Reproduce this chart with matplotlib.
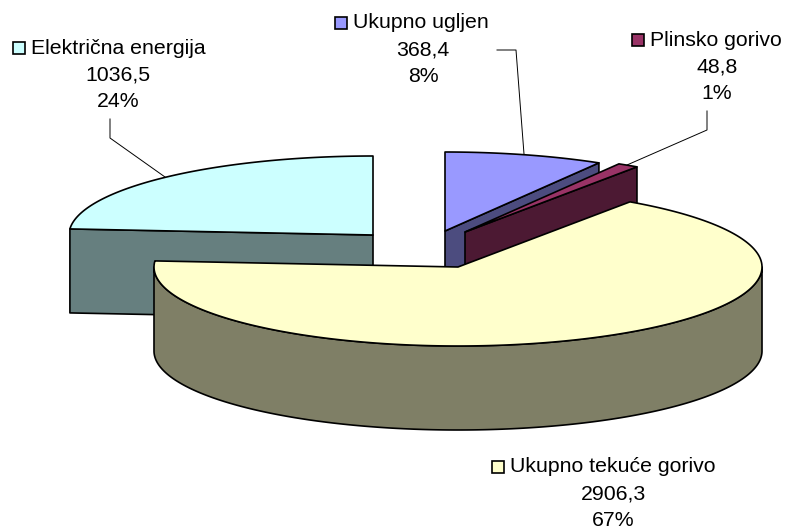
import numpy as np
import matplotlib
matplotlib.use('Agg')
import matplotlib.pyplot as plt

plt.rcParams['font.family'] = ['Liberation Sans', 'DejaVu Sans']

names = ['Ukupno ugljen', 'Plinsko gorivo', 'Ukupno tekuće gorivo', 'Električna energija']
values = [368.4, 48.8, 2906.3, 1036.5]
top_colors = ['#9999FF', '#993366', '#FFFFCC', '#CCFFFF']
side_colors = ['#4C4C7F', '#4C1933', '#7F7F66', '#667F7F']

# where each exploded slice sits, in pixels
centers = [(445, 231), (465, 232), (458, 267), (373, 235)]
rx, ry, depth = 304, 79, 84
draw_order = [3, 0, 1, 2]

# label: name x start, value centre x, first line y
label_pos = [(353, 423, 23), (650, 717, 40), (510, 613, 467), (31, 118, 48)]
leaders = [
    [(497, 50), (516, 50), (524, 154)],
    [(707, 111), (707, 130), (627, 165)],
    None,
    [(110, 119), (110, 138), (165, 177)],
]

total = sum(values)
ends = np.cumsum(values) / total * 360
starts = np.r_[0, ends[:-1]]


def arc(c, a, b):
    t = np.radians(np.linspace(a, b, max(int(abs(b - a)) * 2, 2)))
    return np.c_[c[0] + rx * np.sin(t), c[1] - ry * np.cos(t)]


def wall(ax, top, color):
    pts = np.vstack([top, top[::-1] + [0, depth]])
    ax.fill(pts[:, 0], pts[:, 1], fc=color, ec='black', lw=1.2, joinstyle='round')


fig = plt.figure(figsize=(7.86, 5.32), dpi=100)
ax = fig.add_axes([0, 0, 1, 1])
ax.set_xlim(0, 786)
ax.set_ylim(532, 0)
ax.axis('off')

for i in draw_order:
    c, a, b = centers[i], starts[i], ends[i]
    # cut faces turned to the viewer
    if np.sin(np.radians(a)) < -1e-6:
        wall(ax, np.array([c, arc(c, a, a)[0]]), side_colors[i])
    if np.sin(np.radians(b)) > 1e-6:
        wall(ax, np.array([c, arc(c, b, b)[0]]), side_colors[i])
    # outer rim, front half only
    lo, hi = max(a, 90), min(b, 270)
    if hi > lo:
        wall(ax, arc(c, lo, hi), side_colors[i])
    top = np.vstack([[c], arc(c, a, b)])
    ax.fill(top[:, 0], top[:, 1], fc=top_colors[i], ec='black', lw=1.2, joinstyle='round')

fs = 15.3
for i, name in enumerate(names):
    x0, xc, y = label_pos[i]
    ax.text(x0, y, name, fontsize=fs, ha='left', va='center', color='black')
    ax.plot([x0 - 12.5], [y], marker='s', ms=8.5, mfc=top_colors[i], mec='black', mew=1.2, ls='none')
    ax.text(xc, y + 27, f'{values[i]:.1f}'.replace('.', ','), fontsize=fs, ha='center', va='center')
    ax.text(xc, y + 53.5, f'{values[i] / total * 100:.0f}%', fontsize=fs, ha='center', va='center')
    if leaders[i]:
        xs, ys = zip(*leaders[i])
        ax.plot(xs, ys, color='black', lw=0.7)

fig.savefig('out.png', dpi=100, facecolor='white')
